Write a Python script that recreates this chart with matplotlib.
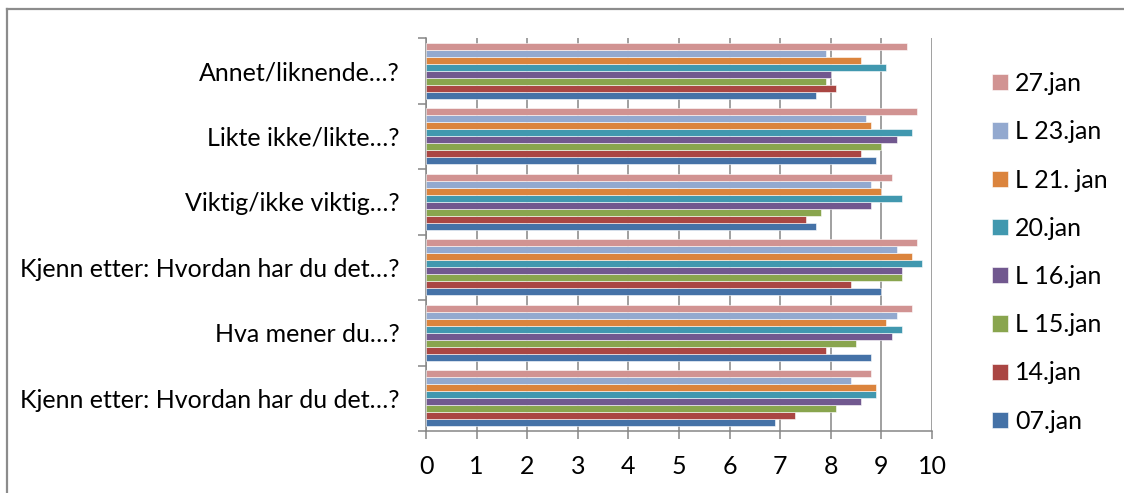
import numpy as np
import matplotlib
matplotlib.use("Agg")
import matplotlib.pyplot as plt
from matplotlib.lines import Line2D

plt.rcParams['font.family'] = ['Lato', 'DejaVu Sans']

categories = ["Kjenn etter: Hvordan har du det…?", "Hva mener du…?",
              "Kjenn etter: Hvordan har du det…?", "Viktig/ikke viktig…?",
              "Likte ikke/likte…?", "Annet/liknende…?"]

series_names = ["07.jan", "14.jan", "L 15.jan", "L 16.jan",
                "20.jan", "L 21. jan", "L 23.jan", "27.jan"]

jan07 = [6.9, 8.8, 9.0, 7.7, 8.9, 7.7]
jan14 = [7.3, 7.9, 8.4, 7.5, 8.6, 8.1]
jan15 = [8.1, 8.5, 9.4, 7.8, 9.0, 7.9]
jan16 = [8.6, 9.2, 9.4, 8.8, 9.3, 8.0]
jan20 = [8.9, 9.4, 9.8, 9.4, 9.6, 9.1]
jan21 = [8.9, 9.1, 9.6, 9.0, 8.8, 8.6]
jan23 = [8.4, 9.3, 9.3, 8.8, 8.7, 7.9]
jan27 = [8.8, 9.6, 9.7, 9.2, 9.7, 9.5]

colors = ["#4572A7", "#AA4643", "#89A54E", "#71588F",
          "#4198AF", "#DB843D", "#93A9CF", "#D19392"]

values = [jan07, jan14, jan15, jan16, jan20, jan21, jan23, jan27]

fig = plt.figure(figsize=(11.24, 4.93), dpi=100)
ax = fig.add_axes([426 / 1124, 1 - 431 / 493, 506 / 1124, 393 / 493])

grey = "#868686"
n = len(values)
bh = 0.107
y = np.arange(len(categories))
handles = []
for i, (vals, col, name) in enumerate(zip(values, colors, series_names)):
    pos = y - n * bh / 2 + bh * (i + 0.5)
    b = ax.barh(pos, vals, height=bh, color=col, edgecolor="white",
                linewidth=0.4, label=name, zorder=3)
    handles.append(b)

ax.set_xlim(0, 10)
ax.set_ylim(-0.5, len(categories) - 0.5)
ax.set_xticks(range(11))
ax.set_yticks(y)
ax.set_yticklabels(categories)
ax.set_yticks(np.arange(-0.5, len(categories)), minor=True)
ax.tick_params(axis="y", which="major", length=0, pad=19, labelsize=18)
ax.tick_params(axis="y", which="minor", length=6, width=1.1, color=grey)
ax.tick_params(axis="x", length=6, width=1.1, color=grey, pad=11, labelsize=18)
ax.grid(axis="x", color=grey, linewidth=1.1, zorder=0)
for s in ["top", "right"]:
    ax.spines[s].set_visible(False)
for s in ["left", "bottom"]:
    ax.spines[s].set_color(grey)
    ax.spines[s].set_linewidth(1.1)

leg = fig.legend(handles[::-1], series_names[::-1], loc="upper left",
                 bbox_to_anchor=(982 / 1124, 1 - 62 / 493), frameon=False,
                 fontsize=18, handlelength=0.62, handleheight=0.62,
                 handletextpad=0.3, labelspacing=1.01, borderaxespad=0)

# outer chart frame
fig.add_artist(Line2D([7 / 1124, 7 / 1124], [0, 1 - 9 / 493], color="#8c8c8c", lw=1.6))
fig.add_artist(Line2D([7 / 1124, 1], [1 - 9 / 493, 1 - 9 / 493], color="#8c8c8c", lw=1.6))

fig.savefig("out.png", dpi=100)
